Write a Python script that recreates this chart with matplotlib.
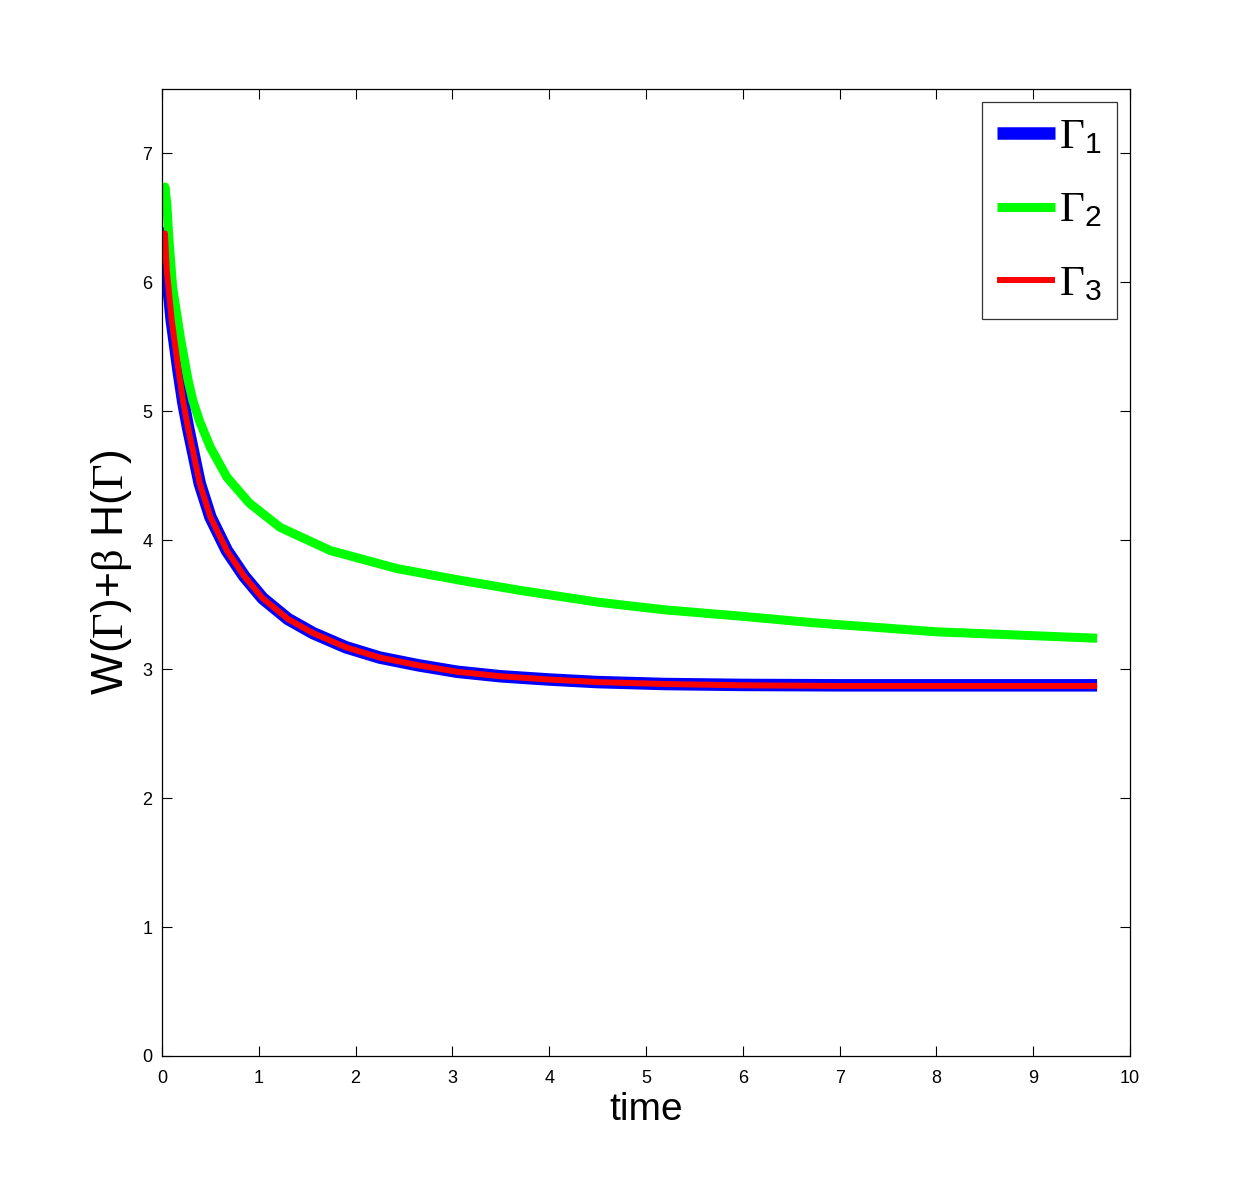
import matplotlib
matplotlib.use("Agg")
import matplotlib.pyplot as plt

plt.rcParams['font.family'] = ['Liberation Sans', 'DejaVu Sans']
plt.rcParams['mathtext.fontset'] = 'custom'
plt.rcParams['mathtext.rm'] = 'Liberation Serif'
plt.rcParams['mathtext.it'] = 'Liberation Serif:italic'
plt.rcParams['mathtext.sf'] = 'Liberation Sans'

# data
t_g1 = [0, 0.015, 0.05, 0.10, 0.17, 0.22, 0.27, 0.39, 0.5, 0.67, 0.85, 1.04, 1.3,
        1.56, 1.9, 2.25, 2.65, 3.05, 3.5, 4.0, 4.5, 5.2, 6.0, 7.0, 8.0, 9.66]
g1 = [6.1, 6.38, 6.09, 5.71, 5.32, 5.07, 4.87, 4.44, 4.18, 3.92, 3.72, 3.55, 3.39,
      3.28, 3.17, 3.09, 3.03, 2.98, 2.945, 2.92, 2.90, 2.885, 2.878, 2.875, 2.875, 2.875]

t_g2 = [0, 0.03, 0.05, 0.07, 0.11, 0.19, 0.27, 0.32, 0.39, 0.5, 0.67, 0.9, 1.22,
        1.74, 2.43, 3.08, 3.71, 4.5, 5.2, 6.0, 6.73, 8.0, 9.0, 9.66]
g2 = [6.55, 6.74, 6.61, 6.35, 5.96, 5.57, 5.24, 5.08, 4.92, 4.72, 4.49, 4.29, 4.10,
      3.92, 3.78, 3.69, 3.61, 3.52, 3.46, 3.41, 3.36, 3.29, 3.26, 3.24]

t_g3 = [0, 0.03, 0.05, 0.10, 0.17, 0.22, 0.27, 0.39, 0.5, 0.67, 0.85, 1.04, 1.3,
        1.56, 1.9, 2.25, 2.65, 3.05, 3.5, 4.0, 4.5, 5.2, 6.0, 7.0, 8.0, 9.66]
g3 = [6.15, 6.38, 6.09, 5.71, 5.32, 5.07, 4.87, 4.44, 4.18, 3.92, 3.72, 3.55, 3.39,
      3.28, 3.17, 3.09, 3.03, 2.98, 2.945, 2.92, 2.90, 2.885, 2.875, 2.87, 2.87, 2.87]

labels = [r'$\Gamma_{\mathsf{1}}$', r'$\Gamma_{\mathsf{2}}$', r'$\Gamma_{\mathsf{3}}$']
xticks = list(range(0, 11))
yticks = list(range(0, 8))

fig = plt.figure(figsize=(12.48, 11.90), dpi=100)
ax = fig.add_axes([162/1248, 1 - 1056/1190, (1130-162)/1248, (1056-89)/1190])

ax.plot(t_g1, g1, color='#0000ff', lw=9.0, label=labels[0],
        solid_capstyle='butt', solid_joinstyle='round')
ax.plot(t_g2, g2, color='#00ff00', lw=6.5, label=labels[1],
        solid_capstyle='butt', solid_joinstyle='round')
ax.plot(t_g3, g3, color='#ff0000', lw=4.3, label=labels[2],
        solid_capstyle='butt', solid_joinstyle='round')

ax.set_xlim(0, 10)
ax.set_ylim(0, 7.5)
ax.set_xticks(xticks)
ax.set_yticks(yticks)
ax.tick_params(direction='in', length=7, width=0.8, top=True, right=True,
               labelsize=13)
ax.tick_params(axis='x', pad=10)
ax.tick_params(axis='y', pad=7)
for s in ax.spines.values():
    s.set_linewidth(0.9)

ax.set_xlabel('time', fontsize=28, labelpad=4)
ax.set_ylabel(r'W($\Gamma$)+$\mathrm{\beta}$ H($\Gamma$)', fontsize=32, labelpad=6)

leg = ax.legend(loc='upper right', fontsize=31, frameon=True, fancybox=False,
                edgecolor='black', handlelength=1.35, handletextpad=0.1,
                borderaxespad=0.3, labelspacing=0.78, borderpad=0.35)
leg.get_frame().set_linewidth(0.9)

fig.savefig('out.png', dpi=100, facecolor='white')
